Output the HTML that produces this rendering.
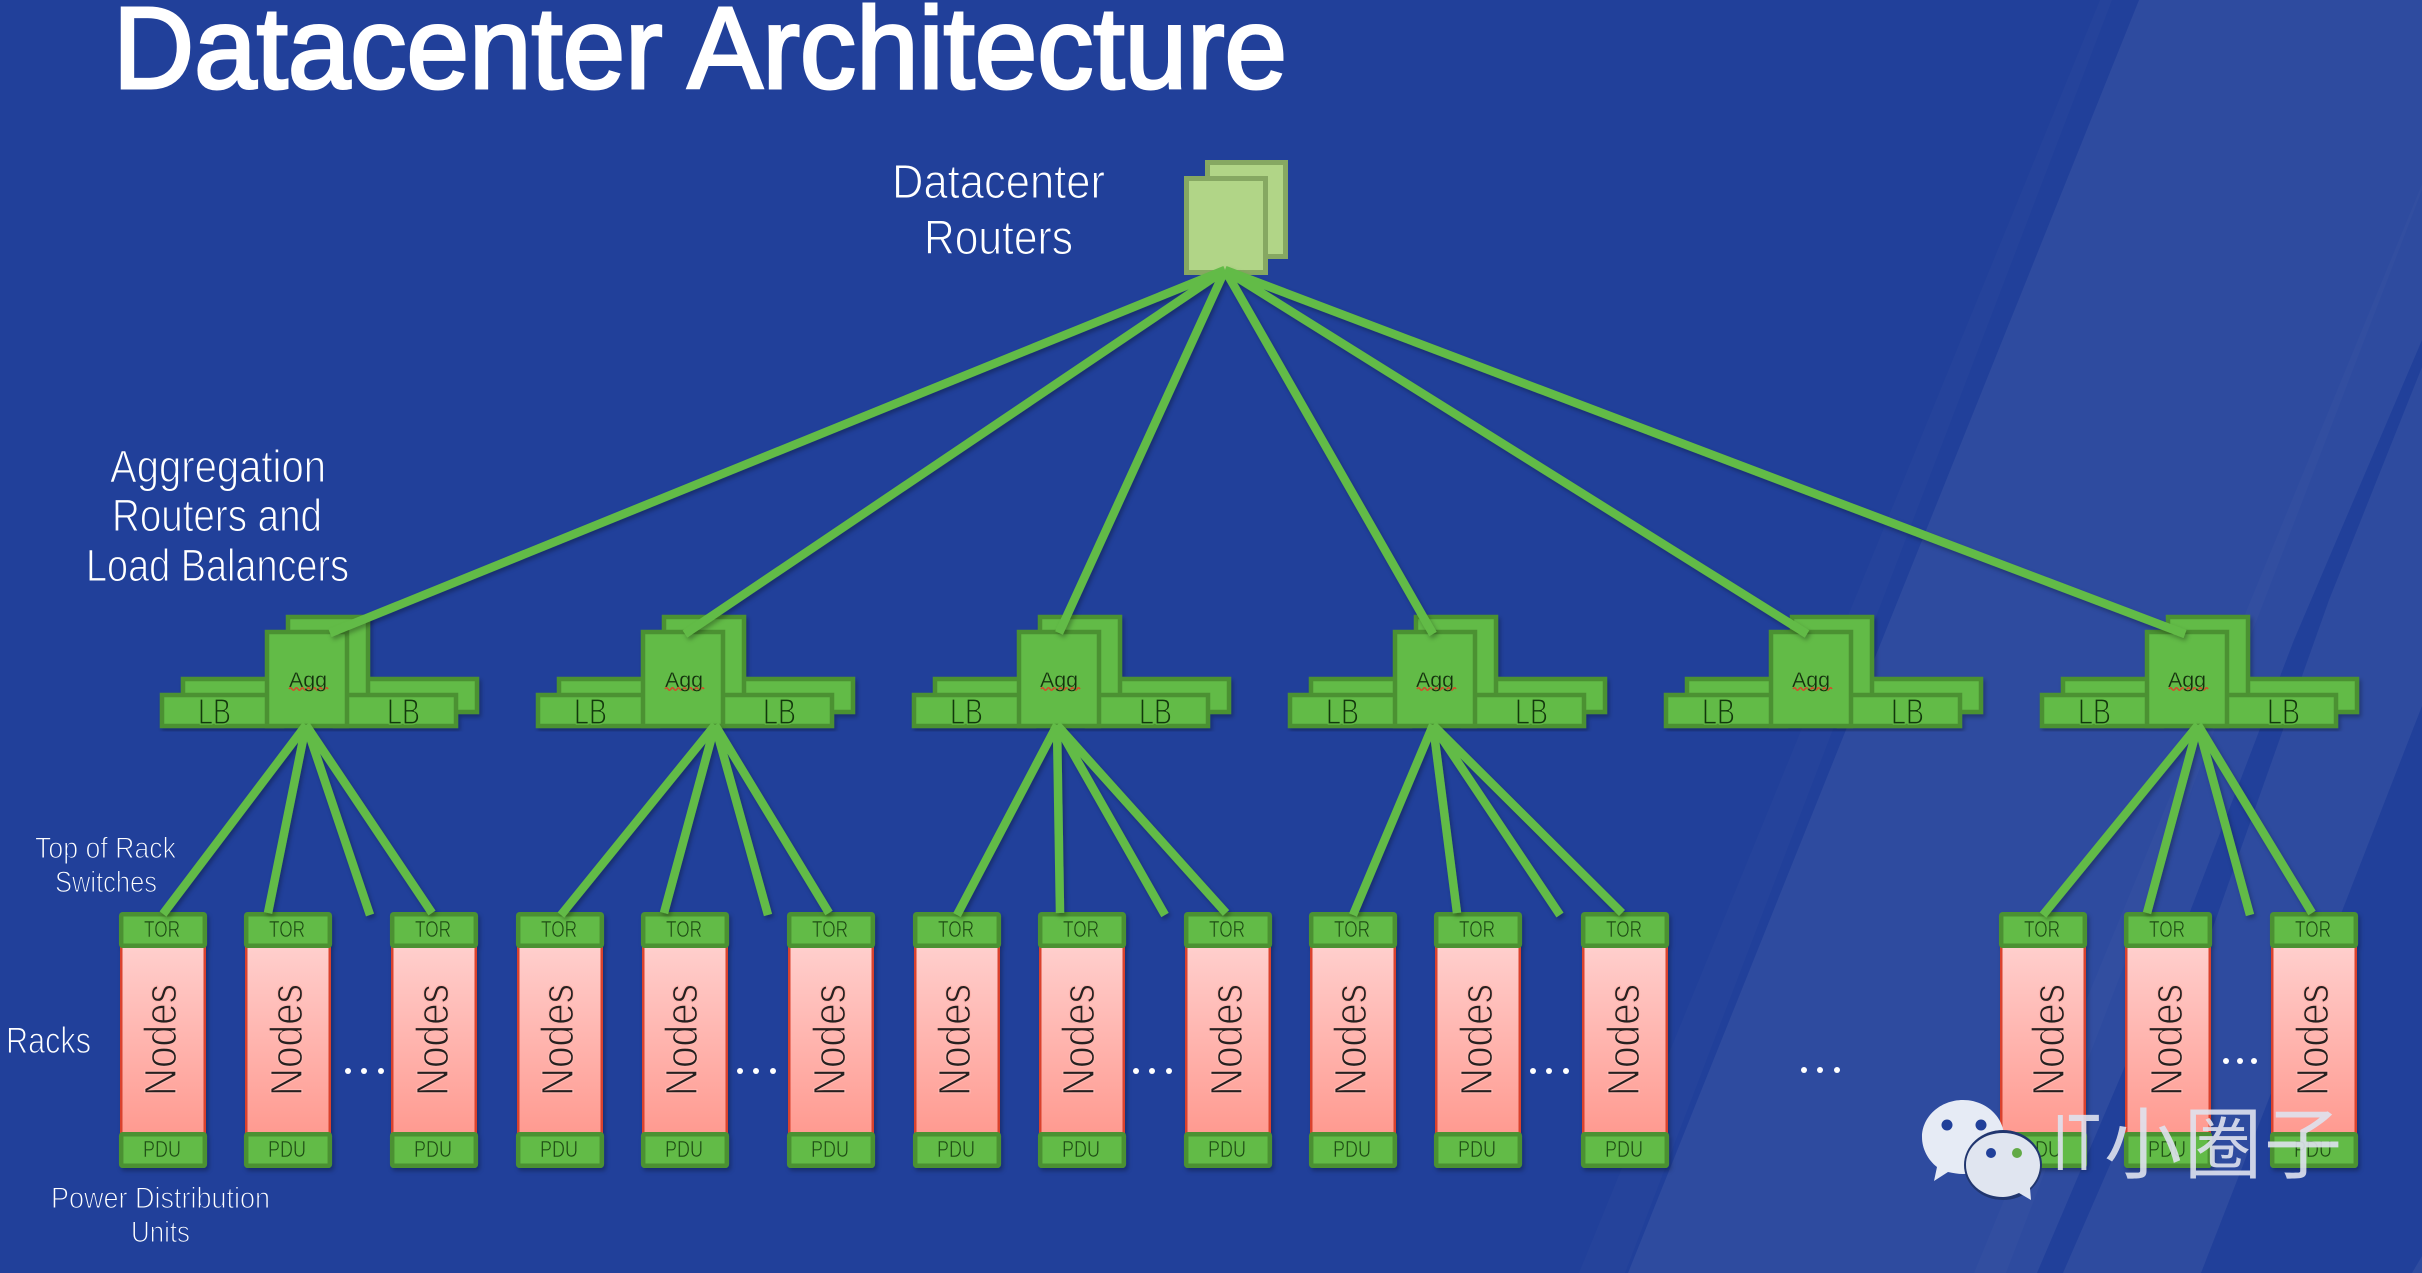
<!DOCTYPE html>
<html>
<head>
<meta charset="utf-8">
<style>
html,body{margin:0;padding:0;background:#21409a}
svg{display:block}
text{font-family:"Liberation Sans","Noto Sans CJK SC",sans-serif}
.w{fill:#fff;stroke:#21409a;stroke-width:1.1px}
.t{fill:#1d4a14;font-size:23px;stroke:#62bb46;stroke-width:.6px}
.lb{fill:#12380c;font-size:36px;stroke:#62bb46;stroke-width:1.2px}
.ag{fill:#14300e;font-size:21px;stroke:#62bb46;stroke-width:.3px}
.n{fill:#26201f;font-size:45px;stroke:#ffb6b0;stroke-width:1.3px}
</style>
</head>
<body>
<svg xmlns="http://www.w3.org/2000/svg" width="2422" height="1273" viewBox="0 0 2422 1273">
<defs>
<linearGradient id="pk" x1="0" y1="0" x2="0" y2="1"><stop offset="0" stop-color="#ffcfcd"/><stop offset="1" stop-color="#ff9a90"/></linearGradient>
<filter id="sh" x="-5%" y="-5%" width="110%" height="110%"><feDropShadow dx="2" dy="3" stdDeviation="2" flood-color="#000" flood-opacity=".28"/></filter>
<g id="agg">
<rect x="183" y="679" width="140" height="33" fill="#62bb46" stroke="#4c9132" stroke-width="4.5"/>
<rect x="340" y="679" width="137" height="33" fill="#62bb46" stroke="#4c9132" stroke-width="4.5"/>
<rect x="288" y="617" width="80" height="90" fill="#62bb46" stroke="#4c9132" stroke-width="4.5"/>
<rect x="162" y="695" width="120" height="31" fill="#62bb46" stroke="#4c9132" stroke-width="4.5"/>
<rect x="335" y="695" width="121" height="31" fill="#62bb46" stroke="#4c9132" stroke-width="4.5"/>
<rect x="267" y="632" width="80" height="94" fill="#62bb46" stroke="#4c9132" stroke-width="4.5"/>
<path d="M289 689q1.5-2.5 3 0t3 0 3 0 3 0 3 0 3 0 3 0 3 0 3 0 3 0 3 0 3 0 3 0" fill="none" stroke="#d8482c" stroke-width="1.6"/>
</g>
<g id="rk">
<rect x="2" y="946" width="84" height="188" fill="url(#pk)"/>
<rect x="1" y="946" width="2.5" height="188" fill="#d9432f"/>
<rect x="84.5" y="946" width="2.5" height="188" fill="#d9432f"/>
<rect x="2.2" y="914.2" width="83.6" height="31.6" rx="1.5" fill="#62bb46" stroke="#4c9132" stroke-width="4.5"/>
<rect x="2.2" y="1134.2" width="83.6" height="31.6" rx="1.5" fill="#62bb46" stroke="#4c9132" stroke-width="4.5"/>
</g>
</defs>

<rect width="2422" height="1273" fill="#21409a"/>
<polygon points="2100,0 2112,0 1625,1273 1579,1273" fill="#fff" opacity=".02"/>
<polygon points="2139,0 2422,0 2422,340 2294,640 2183,930 2037,1273 1628,1273 1882,640" fill="#fff" opacity=".058"/>
<polygon points="2422,367 2329,600 2212,930 2063,1273 2201,1273 2422,706" fill="#fff" opacity=".058"/>
<polygon points="2422,1256 2422,1273 2412,1273" fill="#fff" opacity=".058"/>
<polygon points="2422,184 2422,190 2006,1273 1974,1273" fill="#fff" opacity=".018"/>

<text class="w" x="113" y="88" font-size="116" textLength="1174" lengthAdjust="spacingAndGlyphs" style="stroke:#fff;stroke-width:3px">Datacenter Architecture</text>

<text class="w" x="892" y="198" font-size="48" textLength="213" lengthAdjust="spacingAndGlyphs">Datacenter</text>
<text class="w" x="924" y="254" font-size="48" textLength="149" lengthAdjust="spacingAndGlyphs">Routers</text>
<text class="w" x="110" y="482" font-size="45" textLength="216" lengthAdjust="spacingAndGlyphs">Aggregation</text>
<text class="w" x="112" y="531" font-size="45" textLength="210" lengthAdjust="spacingAndGlyphs">Routers and</text>
<text class="w" x="86" y="581" font-size="45" textLength="263" lengthAdjust="spacingAndGlyphs">Load Balancers</text>
<text class="w" x="35" y="858" font-size="30" textLength="141" lengthAdjust="spacingAndGlyphs">Top of Rack</text>
<text class="w" x="55" y="892" font-size="30" textLength="102" lengthAdjust="spacingAndGlyphs">Switches</text>
<text class="w" x="6" y="1053" font-size="37" textLength="85" lengthAdjust="spacingAndGlyphs">Racks</text>
<text class="w" x="51" y="1208" font-size="30" textLength="219" lengthAdjust="spacingAndGlyphs">Power Distribution</text>
<text class="w" x="131" y="1242" font-size="30" textLength="59" lengthAdjust="spacingAndGlyphs">Units</text>

<!-- router -->
<rect x="1207.5" y="162.5" width="78" height="94" fill="#b1d587" stroke="#86a862" stroke-width="5"/>
<rect x="1186.5" y="178.5" width="79" height="94" fill="#b1d587" stroke="#86a862" stroke-width="5"/>

<!-- aggregation groups -->
<g filter="url(#sh)">
<use href="#agg"/>
<use href="#agg" x="376"/>
<use href="#agg" x="752"/>
<use href="#agg" x="1128"/>
<use href="#agg" x="1504"/>
<use href="#agg" x="1880"/>
</g>
<text class="ag" x="289" y="687" textLength="38" lengthAdjust="spacingAndGlyphs">Agg</text>
<text class="ag" x="665" y="687" textLength="38" lengthAdjust="spacingAndGlyphs">Agg</text>
<text class="ag" x="1040" y="687" textLength="38" lengthAdjust="spacingAndGlyphs">Agg</text>
<text class="ag" x="1416" y="687" textLength="38" lengthAdjust="spacingAndGlyphs">Agg</text>
<text class="ag" x="1792" y="687" textLength="38" lengthAdjust="spacingAndGlyphs">Agg</text>
<text class="ag" x="2168" y="687" textLength="38" lengthAdjust="spacingAndGlyphs">Agg</text>
<text class="lb" x="198" y="724" textLength="33" lengthAdjust="spacingAndGlyphs">LB</text><text class="lb" x="387" y="724" textLength="33" lengthAdjust="spacingAndGlyphs">LB</text>
<text class="lb" x="574" y="724" textLength="33" lengthAdjust="spacingAndGlyphs">LB</text><text class="lb" x="763" y="724" textLength="33" lengthAdjust="spacingAndGlyphs">LB</text>
<text class="lb" x="950" y="724" textLength="33" lengthAdjust="spacingAndGlyphs">LB</text><text class="lb" x="1139" y="724" textLength="33" lengthAdjust="spacingAndGlyphs">LB</text>
<text class="lb" x="1326" y="724" textLength="33" lengthAdjust="spacingAndGlyphs">LB</text><text class="lb" x="1515" y="724" textLength="33" lengthAdjust="spacingAndGlyphs">LB</text>
<text class="lb" x="1702" y="724" textLength="33" lengthAdjust="spacingAndGlyphs">LB</text><text class="lb" x="1891" y="724" textLength="33" lengthAdjust="spacingAndGlyphs">LB</text>
<text class="lb" x="2078" y="724" textLength="33" lengthAdjust="spacingAndGlyphs">LB</text><text class="lb" x="2267" y="724" textLength="33" lengthAdjust="spacingAndGlyphs">LB</text>

<!-- racks -->
<g filter="url(#sh)">
<use href="#rk" x="119"/><use href="#rk" x="244"/><use href="#rk" x="390"/>
<use href="#rk" x="516"/><use href="#rk" x="641"/><use href="#rk" x="787"/>
<use href="#rk" x="913"/><use href="#rk" x="1038"/><use href="#rk" x="1184"/>
<use href="#rk" x="1309"/><use href="#rk" x="1434"/><use href="#rk" x="1581"/>
<use href="#rk" x="1999"/><use href="#rk" x="2124"/><use href="#rk" x="2270"/>
</g>

<g id="labels">
<g transform="translate(119,0)"><text class="t" x="25" y="937" textLength="36" lengthAdjust="spacingAndGlyphs">TOR</text><text class="t" x="24" y="1157" textLength="38" lengthAdjust="spacingAndGlyphs">PDU</text><text class="n" transform="translate(57,1096) rotate(-90)" textLength="112" lengthAdjust="spacingAndGlyphs">Nodes</text></g>
<g transform="translate(244,0)"><text class="t" x="25" y="937" textLength="36" lengthAdjust="spacingAndGlyphs">TOR</text><text class="t" x="24" y="1157" textLength="38" lengthAdjust="spacingAndGlyphs">PDU</text><text class="n" transform="translate(58,1096) rotate(-90)" textLength="112" lengthAdjust="spacingAndGlyphs">Nodes</text></g>
<g transform="translate(390,0)"><text class="t" x="25" y="937" textLength="36" lengthAdjust="spacingAndGlyphs">TOR</text><text class="t" x="24" y="1157" textLength="38" lengthAdjust="spacingAndGlyphs">PDU</text><text class="n" transform="translate(58,1096) rotate(-90)" textLength="112" lengthAdjust="spacingAndGlyphs">Nodes</text></g>

<g transform="translate(516,0)"><text class="t" x="25" y="937" textLength="36" lengthAdjust="spacingAndGlyphs">TOR</text><text class="t" x="24" y="1157" textLength="38" lengthAdjust="spacingAndGlyphs">PDU</text><text class="n" transform="translate(57,1096) rotate(-90)" textLength="112" lengthAdjust="spacingAndGlyphs">Nodes</text></g>
<g transform="translate(641,0)"><text class="t" x="25" y="937" textLength="36" lengthAdjust="spacingAndGlyphs">TOR</text><text class="t" x="24" y="1157" textLength="38" lengthAdjust="spacingAndGlyphs">PDU</text><text class="n" transform="translate(56,1096) rotate(-90)" textLength="112" lengthAdjust="spacingAndGlyphs">Nodes</text></g>
<g transform="translate(787,0)"><text class="t" x="25" y="937" textLength="36" lengthAdjust="spacingAndGlyphs">TOR</text><text class="t" x="24" y="1157" textLength="38" lengthAdjust="spacingAndGlyphs">PDU</text><text class="n" transform="translate(58,1096) rotate(-90)" textLength="112" lengthAdjust="spacingAndGlyphs">Nodes</text></g>

<g transform="translate(913,0)"><text class="t" x="25" y="937" textLength="36" lengthAdjust="spacingAndGlyphs">TOR</text><text class="t" x="24" y="1157" textLength="38" lengthAdjust="spacingAndGlyphs">PDU</text><text class="n" transform="translate(57,1096) rotate(-90)" textLength="112" lengthAdjust="spacingAndGlyphs">Nodes</text></g>
<g transform="translate(1038,0)"><text class="t" x="25" y="937" textLength="36" lengthAdjust="spacingAndGlyphs">TOR</text><text class="t" x="24" y="1157" textLength="38" lengthAdjust="spacingAndGlyphs">PDU</text><text class="n" transform="translate(56,1096) rotate(-90)" textLength="112" lengthAdjust="spacingAndGlyphs">Nodes</text></g>
<g transform="translate(1184,0)"><text class="t" x="25" y="937" textLength="36" lengthAdjust="spacingAndGlyphs">TOR</text><text class="t" x="24" y="1157" textLength="38" lengthAdjust="spacingAndGlyphs">PDU</text><text class="n" transform="translate(58,1096) rotate(-90)" textLength="112" lengthAdjust="spacingAndGlyphs">Nodes</text></g>

<g transform="translate(1309,0)"><text class="t" x="25" y="937" textLength="36" lengthAdjust="spacingAndGlyphs">TOR</text><text class="t" x="24" y="1157" textLength="38" lengthAdjust="spacingAndGlyphs">PDU</text><text class="n" transform="translate(57,1096) rotate(-90)" textLength="112" lengthAdjust="spacingAndGlyphs">Nodes</text></g>
<g transform="translate(1434,0)"><text class="t" x="25" y="937" textLength="36" lengthAdjust="spacingAndGlyphs">TOR</text><text class="t" x="24" y="1157" textLength="38" lengthAdjust="spacingAndGlyphs">PDU</text><text class="n" transform="translate(58,1096) rotate(-90)" textLength="112" lengthAdjust="spacingAndGlyphs">Nodes</text></g>
<g transform="translate(1581,0)"><text class="t" x="25" y="937" textLength="36" lengthAdjust="spacingAndGlyphs">TOR</text><text class="t" x="24" y="1157" textLength="38" lengthAdjust="spacingAndGlyphs">PDU</text><text class="n" transform="translate(58,1096) rotate(-90)" textLength="112" lengthAdjust="spacingAndGlyphs">Nodes</text></g>

<g transform="translate(1999,0)"><text class="t" x="25" y="937" textLength="36" lengthAdjust="spacingAndGlyphs">TOR</text><text class="t" x="24" y="1157" textLength="38" lengthAdjust="spacingAndGlyphs">PDU</text><text class="n" transform="translate(65,1096) rotate(-90)" textLength="112" lengthAdjust="spacingAndGlyphs">Nodes</text></g>
<g transform="translate(2124,0)"><text class="t" x="25" y="937" textLength="36" lengthAdjust="spacingAndGlyphs">TOR</text><text class="t" x="24" y="1157" textLength="38" lengthAdjust="spacingAndGlyphs">PDU</text><text class="n" transform="translate(58,1096) rotate(-90)" textLength="112" lengthAdjust="spacingAndGlyphs">Nodes</text></g>
<g transform="translate(2270,0)"><text class="t" x="25" y="937" textLength="36" lengthAdjust="spacingAndGlyphs">TOR</text><text class="t" x="24" y="1157" textLength="38" lengthAdjust="spacingAndGlyphs">PDU</text><text class="n" transform="translate(58,1096) rotate(-90)" textLength="112" lengthAdjust="spacingAndGlyphs">Nodes</text></g>
</g>

<!-- connectors -->
<g stroke="#62bb46" stroke-width="8.5" fill="none" filter="url(#sh)">
<path d="M1225 270L330 633M1225 270L685 634M1225 270L1059 633M1225 270L1433 634M1225 270L1807 634M1225 270L2185 634"/>
<path d="M306 725L163 914M306 725L268 913M306 725L370 915M306 725L432 913"/>
<path d="M715 725L561 915M715 725L664 913M715 725L768 915M715 725L829 913"/>
<path d="M1057 725L957 915M1057 725L1060 913M1057 725L1165 915M1057 725L1226 913"/>
<path d="M1433 725L1353 915M1433 725L1457 913M1433 725L1560 915M1433 725L1622 913"/>
<path d="M2198 725L2043 915M2198 725L2147 913M2198 725L2250 915M2198 725L2312 913"/>
</g>

<!-- ellipsis dots -->
<g fill="#fff">
<circle cx="348" cy="1071" r="3"/><circle cx="364" cy="1071" r="3"/><circle cx="381" cy="1071" r="3"/>
<circle cx="740" cy="1071" r="3"/><circle cx="756" cy="1071" r="3"/><circle cx="773" cy="1071" r="3"/>
<circle cx="1136" cy="1071" r="3"/><circle cx="1152" cy="1071" r="3"/><circle cx="1169" cy="1071" r="3"/>
<circle cx="1533" cy="1071" r="3"/><circle cx="1549" cy="1071" r="3"/><circle cx="1566" cy="1071" r="3"/>
<circle cx="1804" cy="1070" r="3"/><circle cx="1820" cy="1070" r="3"/><circle cx="1837" cy="1070" r="3"/>
<circle cx="2226" cy="1061" r="3"/><circle cx="2240" cy="1061" r="3"/><circle cx="2254" cy="1061" r="3"/>
</g>

<!-- watermark logo -->
<g>
<path d="M1922 1137c0-20 18-37 41-37s41 17 41 37-18 37-41 37c-5 0-10-1-15-2l-14 9 3-14c-9-7-15-18-15-30z" fill="#e6ebf5"/>
<circle cx="1947" cy="1125" r="5.5" fill="#21409a"/><circle cx="1981" cy="1125" r="5.5" fill="#21409a"/>
<ellipse cx="2003" cy="1165" rx="39" ry="35" fill="#21366f"/>
<path d="M1966 1165c0-18 16-32 37-32s37 14 37 32c0 9-4 17-10 23l1 12-12-7c-5 2-10 4-16 4-21 0-37-14-37-32z" fill="#e6ebf5" opacity=".97"/>
<circle cx="1991" cy="1153" r="5" fill="#21409a"/><circle cx="2017" cy="1153" r="5" fill="#62aa46"/>
</g>
<text x="2053" y="1170" font-size="80" fill="#dfe2ee" fill-opacity=".9"><tspan textLength="47" lengthAdjust="spacingAndGlyphs">IT</tspan><tspan x="2104" y="1172" font-size="78" letter-spacing="2">小圈子</tspan></text>
</svg>
</body>
</html>
